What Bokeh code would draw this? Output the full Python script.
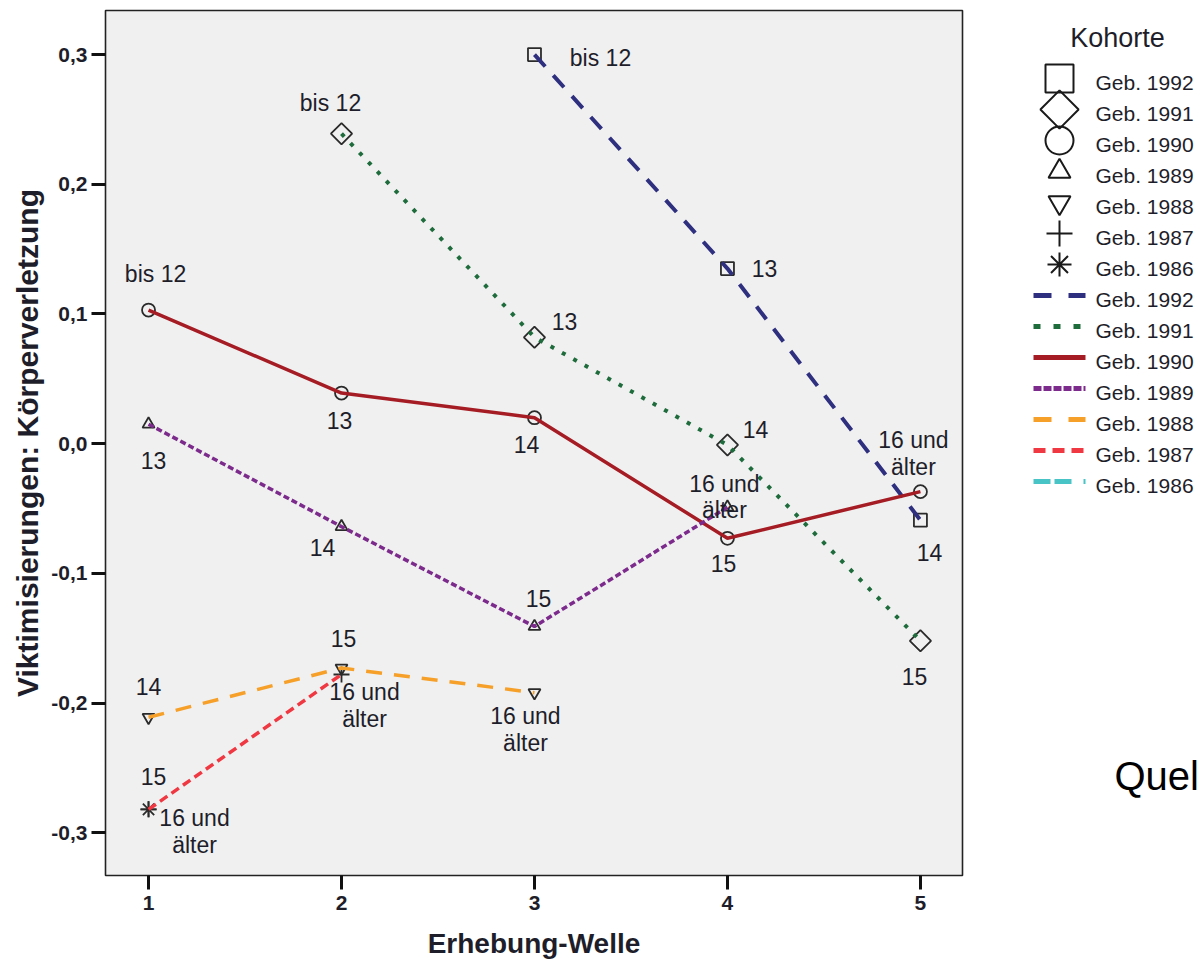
import math
from bokeh.plotting import figure
from bokeh.models import Range1d, FixedTicker, ColumnDataSource
from bokeh.layouts import row
from bokeh.embed import file_html
from bokeh.resources import INLINE
from bokeh.core.properties import value

# ---------------- data ----------------
cohorts = ["Geb. 1992", "Geb. 1991", "Geb. 1990", "Geb. 1989", "Geb. 1988", "Geb. 1987", "Geb. 1986"]

w_1992 = [3, 4, 5]
v_1992 = [0.300, 0.135, -0.059]
lab_1992 = ["bis 12", "13", "14"]

w_1991 = [2, 3, 4, 5]
v_1991 = [0.239, 0.082, -0.001, -0.152]
lab_1991 = ["bis 12", "13", "14", "15"]

w_1990 = [1, 2, 3, 4, 5]
v_1990 = [0.103, 0.039, 0.020, -0.073, -0.037]
lab_1990 = ["bis 12", "13", "14", "15", "16 und\nälter"]

w_1989 = [1, 2, 3, 4]
v_1989 = [0.015, -0.064, -0.141, -0.049]
lab_1989 = ["13", "14", "15", "16 und\nälter"]

w_1988 = [1, 2, 3]
v_1988 = [-0.211, -0.173, -0.192]
lab_1988 = ["14", "15", "16 und\nälter"]

w_1987 = [1, 2]
v_1987 = [-0.282, -0.178]
lab_1987 = ["15", "16 und\nälter"]

w_1986 = [1]
v_1986 = [-0.282]
lab_1986 = ["16 und\nälter"]

x_ticks = [1, 2, 3, 4, 5]
x_tick_labels = ["1", "2", "3", "4", "5"]
y_ticks = [-0.3, -0.2, -0.1, 0.0, 0.1, 0.2, 0.3]
y_tick_labels = ["-0,3", "-0,2", "-0,1", "0,0", "0,1", "0,2", "0,3"]

# ---------------- label placement (screen px offsets) ----------------
off_1992 = [(66, 3), (37, 0), (9, 32)]
off_1991 = [(-11, -31), (30, -16), (28, -15), (-6, 36)]
off_1990 = [(7, -36), (-2, 27), (-8, 27), (-4, 25), (-7, -38)]
off_1989 = [(5, 36), (-19, 21), (4, -28), (-3, -10)]
off_1988 = [(0, -31), (2, -30), (-9, 37)]
off_1987 = [(5, -33), (23, 31)]
off_1986 = [(46, 22)]

series = [
    (w_1992, v_1992, lab_1992, off_1992),
    (w_1991, v_1991, lab_1991, off_1991),
    (w_1990, v_1990, lab_1990, off_1990),
    (w_1989, v_1989, lab_1989, off_1989),
    (w_1988, v_1988, lab_1988, off_1988),
    (w_1987, v_1987, lab_1987, off_1987),
    (w_1986, v_1986, lab_1986, off_1986),
]

colors = ["#2e2f7e", "#1e6b3c", "#a51c24", "#7c2a8c", "#f6a02a", "#ef3842", "#48c4c6"]
dashes = ["16 12", "4 9", "solid", "6 3", "16 12", "9 5", "14 4 14 10"]
leg_dashes = ["18 17", "7 13", "solid", "8 2", "18 17", "12 7", "17 4 17 12"]
widths = [4, 4, 3.5, 3.5, 3.5, 3.5, 3.5]
markers = ["square", "square", "circle", "triangle", "inverted_triangle", "cross", "asterisk"]
angles = [0, math.pi / 4, 0, 0, 0, 0, 0]
msizes = [13, 15, 13, 12, 12, 16, 16]
leg_msizes = [28, 27, 28, 22, 22, 26, 24]

FONT = "Liberation Sans"
INK = "#1e1e2a"

# frame in page pixels
F_LEFT, F_RIGHT, F_TOP, F_BOTTOM = 105, 962, 10, 875
W_MAIN, W_LEG, H = 1010, 190, 962

# ---------------- main plot ----------------
p = figure(width=W_MAIN, height=H, output_backend="svg", toolbar_location=None,
           x_range=Range1d(0.777, 5.218), y_range=Range1d(-0.333, 0.334),
           min_border_left=F_LEFT, min_border_right=W_MAIN - F_RIGHT,
           min_border_top=F_TOP, min_border_bottom=H - F_BOTTOM)
p.border_fill_color = "white"
p.background_fill_color = "#f0f0f0"
p.outline_line_color = "#222222"
p.outline_line_width = 1.6
p.grid.visible = False

p.xaxis.ticker = FixedTicker(ticks=x_ticks)
p.xaxis.major_label_overrides = dict(zip(x_ticks, x_tick_labels))
p.yaxis.ticker = FixedTicker(ticks=y_ticks)
p.yaxis.major_label_overrides = dict(zip(y_ticks, y_tick_labels))

for ax in (p.xaxis, p.yaxis):
    ax.axis_line_color = None
    ax.major_tick_in = 0
    ax.major_tick_out = 14
    ax.major_tick_line_width = 3
    ax.major_tick_line_color = "#111111"
    ax.minor_tick_line_color = None
    ax.major_label_text_font = FONT
    ax.major_label_text_font_style = "bold"
    ax.major_label_text_font_size = "21px"
    ax.major_label_text_color = INK
    ax.axis_label_text_font = FONT
    ax.axis_label_text_font_style = "bold"
    ax.axis_label_text_color = INK

p.xaxis.axis_label_text_font_size = "28px"
p.yaxis.axis_label_text_font_size = "30px"
p.xaxis.axis_label = "Erhebung-Welle"
p.yaxis.axis_label = "Viktimisierungen: Körperverletzung"
p.xaxis.major_label_standoff = 6
p.xaxis.axis_label_standoff = 15
p.yaxis.major_label_standoff = 4
p.yaxis.axis_label_standoff = 4

# markers first
for i, (w, v, labs, offs) in enumerate(series):
    p.scatter(w, v, marker=markers[i], size=msizes[i], angle=angles[i],
              fill_color=None, line_color="#2a2a2a", line_width=1.8)

# lines on top
for i, (w, v, labs, offs) in enumerate(series):
    if len(w) > 1:
        p.line(w, v, line_color=colors[i], line_width=widths[i], line_dash=dashes[i])

# point labels
for i, (w, v, labs, offs) in enumerate(series):
    src = ColumnDataSource(dict(x=w, y=v, t=labs,
                                dx=[o[0] for o in offs], dy=[o[1] for o in offs]))
    p.text(x="x", y="y", text="t", x_offset="dx", y_offset="dy", source=src,
           text_font=value(FONT), text_font_size="23px", text_color=INK,
           text_align="center", text_baseline="middle", text_line_height=1.02)

# ---------------- legend panel (coordinates = page pixels) ----------------
leg = figure(width=W_LEG, height=H, output_backend="svg", toolbar_location=None,
             x_range=Range1d(W_MAIN, W_MAIN + W_LEG), y_range=Range1d(F_BOTTOM, F_TOP),
             min_border_left=0, min_border_right=0,
             min_border_top=F_TOP, min_border_bottom=H - F_BOTTOM)
leg.axis.visible = False
leg.grid.visible = False
leg.outline_line_color = None
leg.background_fill_color = "white"
leg.border_fill_color = "white"

leg.text(x=[1117], y=[37], text=["Kohorte"], text_font=value(FONT), text_font_size="27px",
         text_color=INK, text_align="center", text_baseline="middle")

row_y = [82 + 31 * k for k in range(14)]
for i in range(7):
    leg.scatter([1059], [row_y[i] - 4], marker=markers[i], size=leg_msizes[i], angle=angles[i],
                fill_color=None, line_color="#1a1a1a", line_width=2)
    yl = row_y[7 + i] - 4
    leg.line([1033, 1085], [yl, yl], line_color=colors[i], line_width=5, line_dash=leg_dashes[i])

leg.text(x=[1095] * 14, y=row_y, text=cohorts + cohorts, text_font=value(FONT),
         text_font_size="21px", text_color=INK, text_align="left", text_baseline="middle")

leg.text(x=[1114], y=[775], text=["Quel"], text_font=value(FONT), text_font_size="40px",
         text_color="#000000", text_align="left", text_baseline="middle")

layout = row(p, leg)
open("out.html", "w").write(file_html(layout, INLINE))
